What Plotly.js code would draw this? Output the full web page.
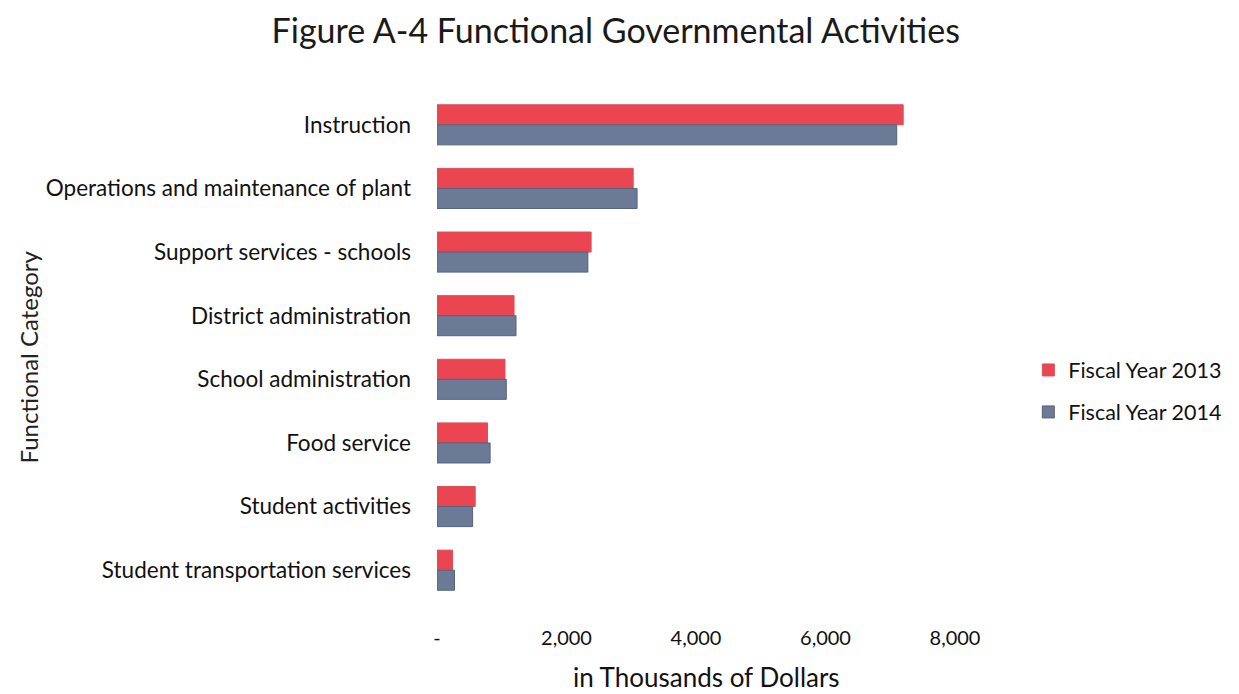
<!DOCTYPE html>
<html>
<head>
<meta charset="utf-8">
<script src="https://cdn.plot.ly/plotly-3.0.1.min.js"></script>
<style>html,body{margin:0;padding:0;background:#fff;}#chart{width:1239px;height:694px;}</style>
</head>
<body>
<div id="chart"></div>
<script>
const categories = [
  "Instruction",
  "Operations and maintenance of plant",
  "Support services - schools",
  "District administration",
  "School administration",
  "Food service",
  "Student activities",
  "Student transportation services"
];
const fy2013 = [7200, 3030, 2380, 1190, 1050, 780, 590, 240];
const fy2014 = [7100, 3090, 2330, 1220, 1070, 820, 550, 270];
const tickValues = [0, 2000, 4000, 6000, 8000];
const tickLabels = ["-", "2,000", "4,000", "6,000", "8,000"];

const font = "Lato, 'Open Sans', sans-serif";

const traces = [
  {
    type: "bar", orientation: "h", name: "Fiscal Year 2013", legendgroup: "fy13",
    y: categories, x: fy2013,
    marker: {color: "#EC4552", line: {color: "#D8505A", width: 1}}
  },
  {
    type: "bar", orientation: "h", name: "Fiscal Year 2014", legendgroup: "fy14",
    y: categories, x: fy2014,
    marker: {color: "#6B7B97", line: {color: "#55627A", width: 1}}
  }
];

const L = 437, R = 962, T = 93, B = 602;
const W = R - L, H = B - T;

const layout = {
  width: 1239, height: 694,
  paper_bgcolor: "#fff", plot_bgcolor: "#fff",
  margin: {l: L, r: 1239 - R, t: T, b: 694 - B},
  font: {family: font, color: "#1a1a1a"},
  title: {
    text: "Figure A-4 Functional Governmental Activities",
    font: {family: font, size: 34, color: "#1a1a1a"},
    x: 0.497, xanchor: "center", y: 0.955, yanchor: "middle"
  },
  barmode: "group",
  bargap: 0.37,
  bargroupgap: 0,
  xaxis: {
    range: [0, 8000], automargin: false,
    tickvals: tickValues, ticktext: tickLabels,
    showgrid: false, zeroline: false, showline: false,
    ticks: "", ticklabelstandoff: 22,
    tickfont: {family: font, size: 20, color: "#111"}
  },
  yaxis: {
    autorange: "reversed", automargin: false,
    showgrid: false, zeroline: false, showline: false,
    ticks: "", ticklabelstandoff: 25,
    tickfont: {family: font, size: 22.5, color: "#111"}
  },
  legend: {
    x: (1238 - L) / W, xanchor: "right", y: (B - 391) / H, yanchor: "middle",
    font: {family: font, size: 21.5, color: "#111"},
    traceorder: "grouped",
    itemwidth: 30, tracegroupgap: 11
  },
  annotations: [
    {
      text: "in Thousands of Dollars", xref: "paper", yref: "paper",
      x: (710 - L) / W, y: (B - 677) / H, xanchor: "center", yanchor: "middle",
      showarrow: false,
      font: {family: font, size: 26, color: "#111"}
    },
    {
      text: "Functional Category", xref: "paper", yref: "paper",
      x: (22 - L) / W, y: (B - 357) / H, xanchor: "center", yanchor: "middle",
      textangle: -90, showarrow: false,
      font: {family: font, size: 24, color: "#222"}
    }
  ]
};

Plotly.newPlot("chart", traces, layout, {displayModeBar: false, staticPlot: true});
</script>
</body>
</html>
